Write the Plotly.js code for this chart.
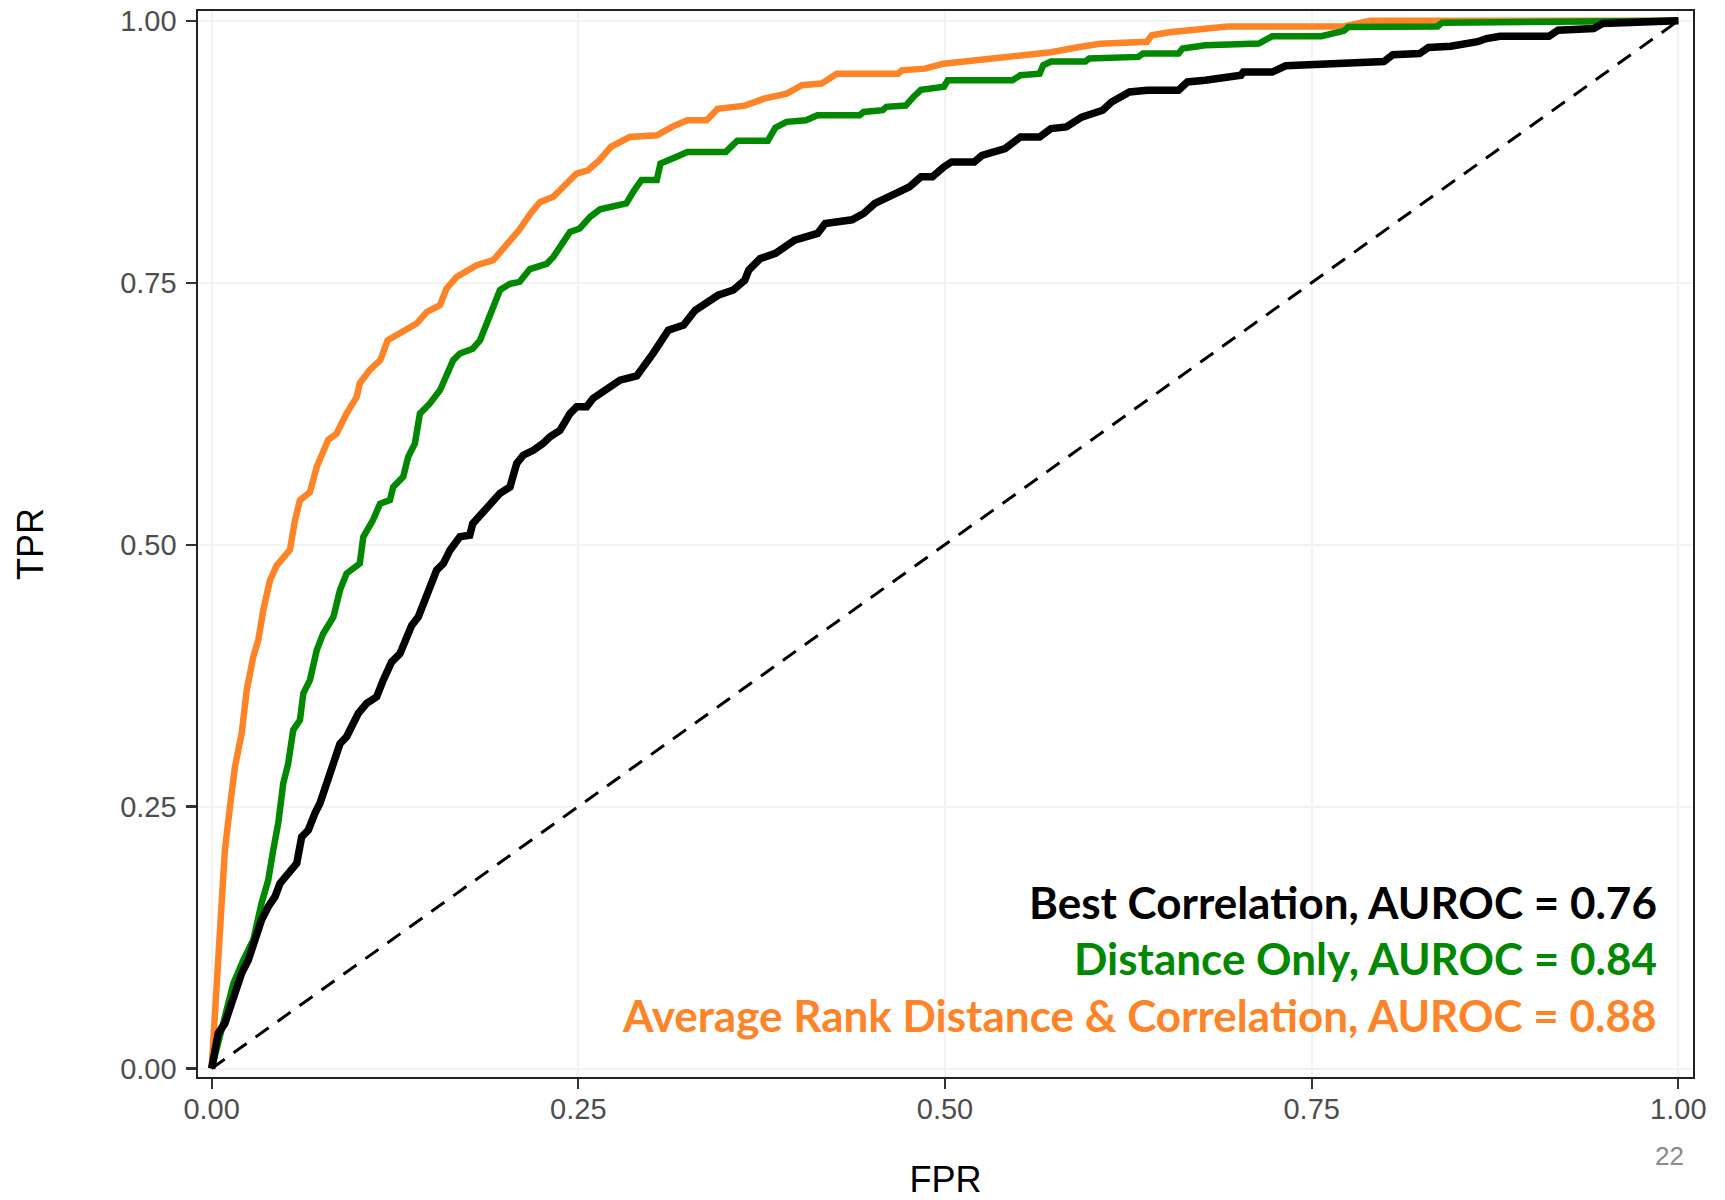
<!DOCTYPE html>
<html>
<head>
<meta charset="utf-8">
<script src="https://cdn.plot.ly/plotly-3.0.1.min.js"></script>
<style>html,body{margin:0;padding:0;background:#fff;}#chart{width:1725px;height:1200px;}</style>
</head>
<body>
<div id="chart"></div>
<script>
// Average Rank Distance & Correlation (orange)
const avgFpr = [0,0.0023,0.0045,0.0068,0.009,0.0125,0.0159,0.0205,0.0239,0.0284,0.0318,0.0352,0.0398,0.0443,0.0534,0.0568,0.0602,0.067,0.0716,0.0795,0.0852,0.092,0.0989,0.101,0.108,0.115,0.120,0.128,0.1398,0.1466,0.1557,0.160,0.167,0.1807,0.192,0.1988,0.2095,0.2174,0.224,0.233,0.242,0.2487,0.2566,0.2644,0.2722,0.285,0.3036,0.3138,0.3244,0.3375,0.345,0.3636,0.3766,0.392,0.4025,0.4158,0.4262,0.468,0.4705,0.4862,0.499,0.5306,0.554,0.5724,0.5906,0.6056,0.6377,0.641,0.653,0.6805,0.6927,0.7719,0.790,1.0];
const avgTpr = [0,0.049,0.113,0.154,0.208,0.25,0.288,0.32,0.361,0.393,0.409,0.4375,0.466,0.48,0.495,0.523,0.5425,0.55,0.574,0.6,0.606,0.625,0.641,0.654,0.667,0.676,0.695,0.7015,0.711,0.722,0.7285,0.744,0.7555,0.7667,0.7715,0.7826,0.80,0.816,0.827,0.832,0.845,0.854,0.8573,0.867,0.8796,0.889,0.8907,0.8987,0.905,0.905,0.916,0.919,0.9256,0.9305,0.9385,0.940,0.9495,0.9495,0.9527,0.9543,0.959,0.964,0.967,0.970,0.9747,0.978,0.98,0.9862,0.989,0.992,0.9946,0.9946,1.0,1.0];

// Distance Only (green)
const distFpr = [0,0.008,0.0148,0.0216,0.0284,0.034,0.0386,0.042,0.0454,0.0488,0.0522,0.0556,0.0602,0.0625,0.067,0.0716,0.076,0.083,0.0875,0.092,0.101,0.1034,0.110,0.1148,0.1216,0.1238,0.1306,0.134,0.1386,0.142,0.1488,0.1557,0.160,0.1647,0.1693,0.178,0.183,0.1875,0.192,0.1966,0.2034,0.210,0.217,0.2284,0.233,0.2397,0.2443,0.251,0.258,0.2648,0.2827,0.288,0.2931,0.3035,0.306,0.3166,0.3244,0.3505,0.3584,0.3792,0.3844,0.392,0.4053,0.413,0.4418,0.4445,0.4575,0.460,0.4732,0.4783,0.4836,0.4993,0.5019,0.546,0.5514,0.5645,0.567,0.5723,0.5957,0.5984,0.6318,0.635,0.6592,0.662,0.6775,0.714,0.7231,0.7566,0.772,0.775,0.8358,0.8388,0.930,0.933,1.0];
const distTpr = [0,0.043,0.081,0.1035,0.1226,0.1576,0.18,0.2085,0.234,0.272,0.291,0.323,0.3325,0.358,0.3707,0.399,0.415,0.431,0.4566,0.4725,0.482,0.5075,0.5234,0.539,0.5425,0.555,0.5647,0.5838,0.5966,0.625,0.6347,0.6474,0.66,0.676,0.6824,0.687,0.695,0.711,0.7237,0.743,0.749,0.7508,0.763,0.768,0.7746,0.7906,0.7985,0.8017,0.8128,0.820,0.8256,0.838,0.848,0.848,0.8637,0.870,0.8748,0.8748,0.8855,0.8855,0.898,0.9035,0.905,0.9098,0.9098,0.913,0.9146,0.9178,0.919,0.927,0.934,0.937,0.9432,0.9432,0.948,0.9495,0.9575,0.961,0.961,0.964,0.9655,0.9687,0.9687,0.9735,0.9766,0.9782,0.9852,0.9852,0.9904,0.994,0.9946,0.998,0.999,1.0,1.0];

// Best Correlation (black)
const corrFpr = [0,0.0045,0.009,0.0148,0.0205,0.025,0.0295,0.034,0.0386,0.0432,0.0466,0.0511,0.058,0.0614,0.0659,0.0704,0.0738,0.0784,0.0829,0.0875,0.092,0.0966,0.100,0.1057,0.1125,0.117,0.1227,0.1284,0.133,0.1364,0.1409,0.1443,0.1488,0.1534,0.158,0.1625,0.1693,0.176,0.178,0.183,0.1875,0.192,0.1966,0.2034,0.208,0.2125,0.2193,0.226,0.2307,0.2375,0.2443,0.2489,0.2557,0.260,0.2693,0.2784,0.2898,0.2966,0.301,0.3114,0.3218,0.3297,0.3375,0.3453,0.3557,0.3635,0.3662,0.374,0.3844,0.3975,0.4131,0.4183,0.4366,0.4445,0.4522,0.468,0.4758,0.4836,0.4914,0.4992,0.5045,0.52,0.5253,0.541,0.5514,0.5645,0.5723,0.5827,0.5932,0.6075,0.6136,0.6258,0.638,0.6592,0.6653,0.6775,0.7018,0.7034,0.7231,0.7323,0.7992,0.8053,0.8235,0.8297,0.8449,0.8631,0.8692,0.8784,0.9118,0.918,0.9423,0.9484,0.994,1.0];
const corrTpr = [0,0.0336,0.043,0.0685,0.091,0.1035,0.1226,0.1417,0.1544,0.164,0.1767,0.1846,0.1958,0.2212,0.2276,0.2435,0.253,0.272,0.291,0.310,0.3166,0.3294,0.339,0.3485,0.3548,0.3707,0.388,0.396,0.412,0.423,0.431,0.4438,0.461,0.4757,0.482,0.4947,0.5075,0.509,0.520,0.528,0.536,0.5425,0.549,0.555,0.5775,0.5854,0.590,0.5966,0.603,0.609,0.625,0.6315,0.6315,0.6395,0.6474,0.657,0.661,0.673,0.6825,0.7047,0.7095,0.7237,0.730,0.738,0.743,0.7524,0.762,0.773,0.778,0.7906,0.797,0.8065,0.810,0.816,0.8256,0.835,0.8414,0.851,0.851,0.8605,0.8653,0.8653,0.8716,0.878,0.889,0.889,0.8971,0.8987,0.908,0.9146,0.9225,0.932,0.9337,0.9337,0.9416,0.9432,0.948,0.951,0.951,0.957,0.961,0.9676,0.9687,0.9745,0.9757,0.98,0.983,0.9852,0.9852,0.991,0.9926,0.9973,0.999,1.0];

// Chance diagonal
const diagX = [0, 1];
const diagY = [0, 1];

const tickVals = [0, 0.25, 0.5, 0.75, 1];
const tickText = ['0.00', '0.25', '0.50', '0.75', '1.00'];

const labels = [
  'Best Correlation, AUROC = 0.76',
  'Distance Only, AUROC = 0.84',
  'Average Rank Distance & Correlation, AUROC = 0.88'
];
const labelY = [0.1589, 0.1054, 0.051];

const ORANGE = '#FF8427';
const GREEN = '#008800';
const BLACK = '#000000';
const labelColors = [BLACK, GREEN, ORANGE];

const traces = [
  {x: avgFpr, y: avgTpr, mode: 'lines', line: {color: ORANGE, width: 6.5}, name: 'Average Rank'},
  {x: distFpr, y: distTpr, mode: 'lines', line: {color: GREEN, width: 6.5}, name: 'Distance Only'},
  {x: corrFpr, y: corrTpr, mode: 'lines', line: {color: BLACK, width: 7.5}, name: 'Best Correlation'},
  {x: diagX, y: diagY, mode: 'lines', line: {color: BLACK, width: 3, dash: '16px,11px'}, name: 'Chance'}
];

const axisCommon = {
  tickmode: 'array', tickvals: tickVals, ticktext: tickText,
  ticks: 'outside', ticklen: 10, tickwidth: 2.2, tickcolor: '#333333',
  tickfont: {family: 'Liberation Sans, Arial, sans-serif', size: 29, color: '#4D4D4D'},
  showgrid: true, gridcolor: '#F3F3F3', gridwidth: 2,
  zeroline: false,
  showline: true, mirror: true, linecolor: '#222222', linewidth: 1.6
};

const annotations = labels.map((t, i) => ({
  x: 0.987, y: labelY[i], xref: 'x', yref: 'y',
  xanchor: 'right', yanchor: 'middle', showarrow: false,
  text: '<b>' + t.replace('&', '&amp;') + '</b>',
  font: {family: 'Lato, sans-serif', size: 44, color: labelColors[i]}
}));
annotations.push({
  x: (1669 - 198) / 1495, y: (1077 - 1156) / 1066, xref: 'paper', yref: 'paper',
  xanchor: 'center', yanchor: 'middle', showarrow: false, text: '22',
  font: {family: 'Liberation Sans, Arial, sans-serif', size: 26, color: '#8A8A8A'}
});

const layout = {
  width: 1725, height: 1200,
  margin: {l: 198, r: 32, t: 11, b: 123},
  paper_bgcolor: '#ffffff', plot_bgcolor: '#ffffff',
  showlegend: false,
  xaxis: Object.assign({}, axisCommon, {
    range: [-0.0093, 1.010],
    ticklabelstandoff: -4,
    title: {text: 'FPR', standoff: 55, font: {family: 'Liberation Sans, Arial, sans-serif', size: 36, color: '#000000'}}
  }),
  yaxis: Object.assign({}, axisCommon, {
    range: [-0.0081, 1.0093],
    ticklabelstandoff: 4,
    title: {text: 'TPR', standoff: 65, font: {family: 'Liberation Sans, Arial, sans-serif', size: 36, color: '#000000'}}
  }),
  annotations: annotations
};

Plotly.newPlot('chart', traces, layout, {displayModeBar: false, staticPlot: true});
</script>
</body>
</html>
